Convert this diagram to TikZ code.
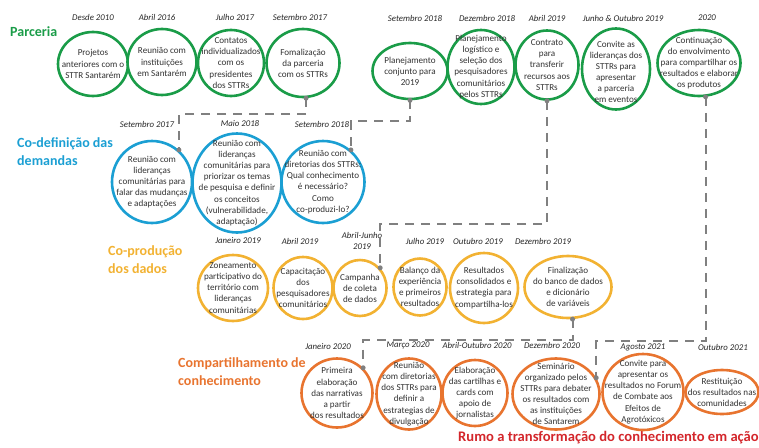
\documentclass[tikz,border=0pt]{standalone}
\usepackage{fontspec}
\setmainfont{Carlito}
\usepackage{tikz}
\usetikzlibrary{shapes.geometric}

\definecolor{parcgreen}{HTML}{1A9C48}
\definecolor{codefblue}{HTML}{1B9FD3}
\definecolor{coprodyellow}{HTML}{F2B232}
\definecolor{compartorange}{HTML}{E8742F}
\definecolor{rumored}{HTML}{D3262B}
\definecolor{linkgray}{HTML}{808080}

\begin{document}
\begin{tikzpicture}[x=1pt, y=-1pt,
    stage/.style={draw, ellipse, line width=2.6pt, fill=white, inner sep=0pt},
    txt/.style={align=center, font=\fontsize{9.1}{11.1}\selectfont, text=black!80, inner sep=0pt},
    date/.style={align=center, font=\fontsize{8.8}{10.5}\selectfont\itshape, text=black!85, inner sep=0pt},
    phase/.style={align=left, anchor=west, font=\fontsize{14}{18}\selectfont\bfseries, inner sep=0pt},
    link/.style={linkgray, line width=2pt, dash pattern=on 9pt off 7pt},
    dot/.style={circle, fill=linkgray, inner sep=0pt, minimum size=5pt}]
        \useasboundingbox (0,0) rectangle (759,447);

        % Define coordinates
        \coordinate (p1) at (93,64);
        \coordinate (p2) at (162,62);
        \coordinate (p3) at (231,63);
        \coordinate (p4) at (303,63);
        \coordinate (p5) at (410,71);
        \coordinate (p6) at (481,67);
        \coordinate (p7) at (547,65);
        \coordinate (p8) at (616,69);
        \coordinate (p9) at (699,63);
        \coordinate (c1) at (152,182);
        \coordinate (c2) at (237,183);
        \coordinate (c3) at (323,182);
        \coordinate (y1) at (233,288);
        \coordinate (y2) at (303,288);
        \coordinate (y3) at (360,288);
        \coordinate (y4) at (420,287);
        \coordinate (y5) at (484,288);
        \coordinate (y6) at (568,287);
        \coordinate (o1) at (337,393);
        \coordinate (o2) at (409,394);
        \coordinate (o3) at (475,393);
        \coordinate (o4) at (556,394);
        \coordinate (o5) at (643,392);
        \coordinate (o6) at (722,392);

        % Phase titles
        \node[phase, text=parcgreen] (parc) at (10,32) {Parceria};
        \node[phase, text=codefblue] (codef) at (17,152) {Co-definição das\\demandas};
        \node[phase, text=coprodyellow] (coprod) at (108,260) {Co-produção\\dos dados};
        \node[phase, text=compartorange] (compart) at (178,372) {Compartilhamento de\\conhecimento};
        \node[phase, text=rumored, font=\fontsize{14.6}{18}\selectfont\bfseries] (rumo) at (458,438) {Rumo a transformação do conhecimento em ação};

        % Parceria (green ovals)
        \node[stage, draw=parcgreen, minimum width=70pt, minimum height=64pt] (p1e) at (p1) {};
        \node[txt] (p1t) at (p1) {Projetos\\anteriores com o\\STTR Santarém};
        \node[stage, draw=parcgreen, minimum width=69pt, minimum height=66pt] (p2e) at (p2) {};
        \node[txt] (p2t) at (p2) {Reunião com\\instituições\\em Santarém};
        \node[stage, draw=parcgreen, minimum width=66pt, minimum height=66pt] (p3e) at (p3) {};
        \node[txt] (p3t) at (p3) {Contatos\\individualizados\\com os\\presidentes\\dos STTRs};
        \node[stage, draw=parcgreen, minimum width=73pt, minimum height=68pt] (p4e) at (p4) {};
        \node[txt] (p4t) at (p4) {Fomalização\\da parceria\\com os STTRs};
        \node[stage, draw=parcgreen, minimum width=75pt, minimum height=56pt] (p5e) at (p5) {};
        \node[txt] (p5t) at (p5) {Planejamento\\conjunto para\\2019};
        \node[stage, draw=parcgreen, minimum width=67pt, minimum height=74pt] (p6e) at (p6) {};
        \node[txt] (p6t) at (p6) {Planejamento\\logístico e\\seleção dos\\pesquisadores\\comunitários\\pelos STTRs};
        \node[stage, draw=parcgreen, minimum width=63pt, minimum height=69pt] (p7e) at (p7) {};
        \node[txt] (p7t) at (p7) {Contrato\\para\\transferir\\recursos aos\\STTRs};
        \node[stage, draw=parcgreen, minimum width=68pt, minimum height=81pt] (p8e) at (p8) {};
        \node[txt] (p8t) at ([yshift=-3pt]p8) {Convite as\\lideranças dos\\STTRs para\\apresentar\\a parceria\\em eventos};
        \node[stage, draw=parcgreen, minimum width=83pt, minimum height=66pt] (p9e) at (p9) {};
        \node[txt] (p9t) at (p9) {Continuação\\do envolvimento\\para compartilhar os\\resultados e elaborar\\os produtos};

        % Co-definição (blue ovals)
        \node[stage, draw=codefblue, minimum width=80pt, minimum height=82pt] (c1e) at (c1) {};
        \node[txt] (c1t) at (c1) {Reunião com\\lideranças\\comunitárias para\\falar das mudanças\\e adaptações};
        \node[stage, draw=codefblue, minimum width=89pt, minimum height=99pt] (c2e) at (c2) {};
        \node[txt] (c2t) at (c2) {Reunião com\\lideranças\\comunitárias para\\priorizar os temas\\de pesquisa e definir\\os conceitos\\(vulnerabilidade,\\adaptação)};
        \node[stage, draw=codefblue, minimum width=83pt, minimum height=82pt] (c3e) at (c3) {};
        \node[txt] (c3t) at (c3) {Reunião com\\diretorias dos STTRs:\\Qual conhecimento\\é necessário?\\Como\\co-produzi-lo?};

        % Co-produção (yellow ovals)
        \node[stage, draw=coprodyellow, minimum width=70pt, minimum height=66pt] (y1e) at (y1) {};
        \node[txt] (y1t) at (y1) {Zoneamento\\participativo do\\território com\\lideranças\\comunitárias};
        \node[stage, draw=coprodyellow, minimum width=59pt, minimum height=62pt] (y2e) at (y2) {};
        \node[txt] (y2t) at (y2) {Capacitação\\dos\\pesquisadores\\comunitários};
        \node[stage, draw=coprodyellow, minimum width=53pt, minimum height=56pt] (y3e) at (y3) {};
        \node[txt] (y3t) at (y3) {Campanha\\de coleta\\de dados};
        \node[stage, draw=coprodyellow, minimum width=53pt, minimum height=57pt] (y4e) at (y4) {};
        \node[txt] (y4t) at (y4) {Balanço da\\experiência\\e primeiros\\resultados};
        \node[stage, draw=coprodyellow, minimum width=68pt, minimum height=70pt] (y5e) at (y5) {};
        \node[txt] (y5t) at (y5) {Resultados\\consolidados e\\estrategia para\\compartilha-los};
        \node[stage, draw=coprodyellow, minimum width=87pt, minimum height=62pt] (y6e) at (y6) {};
        \node[txt] (y6t) at (y6) {Finalização\\do banco de dados\\e dicionário\\de variáveis};

        % Compartilhamento (orange ovals)
        \node[stage, draw=compartorange, minimum width=71pt, minimum height=69pt] (o1e) at (o1) {};
        \node[txt] (o1t) at (o1) {Primeira\\elaboração\\das narrativas\\a partir\\dos resultados};
        \node[stage, draw=compartorange, minimum width=65pt, minimum height=71pt] (o2e) at (o2) {};
        \node[txt] (o2t) at (o2) {Reunião\\com diretorias\\dos STTRs para\\definir a\\estrategias de\\divulgação};
        \node[stage, draw=compartorange, minimum width=65pt, minimum height=66pt] (o3e) at (o3) {};
        \node[txt] (o3t) at (o3) {Elaboração\\das cartilhas e\\cards com\\apoio de\\jornalistas};
        \node[stage, draw=compartorange, minimum width=87pt, minimum height=71pt] (o4e) at (o4) {};
        \node[txt] (o4t) at (o4) {Seminário\\organizado pelos\\STTRs para debater\\os resultados com\\as instituições\\de Santarem};
        \node[stage, draw=compartorange, minimum width=81pt, minimum height=76pt] (o5e) at (o5) {};
        \node[txt] (o5t) at (o5) {Convite para\\apresentar os\\resultados no Forum\\de Combate aos\\Efeitos de\\Agrotóxicos};
        \node[stage, draw=compartorange, minimum width=73pt, minimum height=44pt] (o6e) at (o6) {};
        \node[txt] (o6t) at (o6) {Restituição\\dos resultados nas\\comunidades};

        % Dates
        \node[date] (dp1) at (93,17) {Desde 2010};
        \node[date] (dp2) at (157,17) {Abril 2016};
        \node[date] (dp3) at (235,17) {Julho 2017};
        \node[date] (dp4) at (300,17) {Setembro 2017};
        \node[date] (dp5) at (415,18) {Setembro 2018};
        \node[date] (dp6) at (487,18) {Dezembro 2018};
        \node[date] (dp7) at (547,18) {Abril 2019};
        \node[date] (dp8) at (623,18) {Junho \& Outubro 2019};
        \node[date] (dp9) at (707,18) {2020};
        \node[date] (dc1) at (147,124) {Setembro 2017};
        \node[date] (dc2) at (240,124) {Maio 2018};
        \node[date] (dc3) at (322,124) {Setembro 2018};
        \node[date] (dy1) at (238,241) {Janeiro 2019};
        \node[date] (dy2) at (300,241) {Abril 2019};
        \node[date] (dy3) at (362,241) {Abril-Junho\\2019};
        \node[date] (dy4) at (425,241) {Julho 2019};
        \node[date] (dy5) at (478,241) {Outubro 2019};
        \node[date] (dy6) at (543,241) {Dezembro 2019};
        \node[date] (do1) at (328,346) {Janeiro 2020};
        \node[date] (do2) at (408,345) {Março 2020};
        \node[date] (do3) at (477,345) {Abril-Outubro 2020};
        \node[date] (do4) at (552,345) {Dezembro 2020};
        \node[date] (do5) at (643,347) {Agosto 2021};
        \node[date] (do6) at (723,347) {Outubro 2021};

        % Dashed links between the phases
        \draw[link] (p4e.-85) -- ++(0,16) -| (c1e.50);
        \draw[link] (p5e.south) -- ++(0,21) -| (c3e.49);
        \draw[link] (p7e.south) -- ++(0,123) -| (y3e.45);
        \draw[link] (y6e.-82) -- ++(0,21) -| (o1e.44);
        \draw[link] (p9e.-79) -- ++(0,244) -| (o4e.22);

        % Pins
        \node[dot] (pin1) at (p4e.-85) {};
        \node[dot] (pin2) at (c1e.50) {};
        \node[dot] (pin3) at (p5e.south) {};
        \node[dot] (pin4) at (c3e.49) {};
        \node[dot] (pin5) at (p7e.south) {};
        \node[dot] (pin6) at (y3e.45) {};
        \node[dot] (pin7) at (y6e.-82) {};
        \node[dot] (pin8) at (o1e.44) {};
        \node[dot] (pin9) at (p9e.-79) {};
        \node[dot] (pin10) at (o4e.22) {};
      \end{tikzpicture}
\end{document}
